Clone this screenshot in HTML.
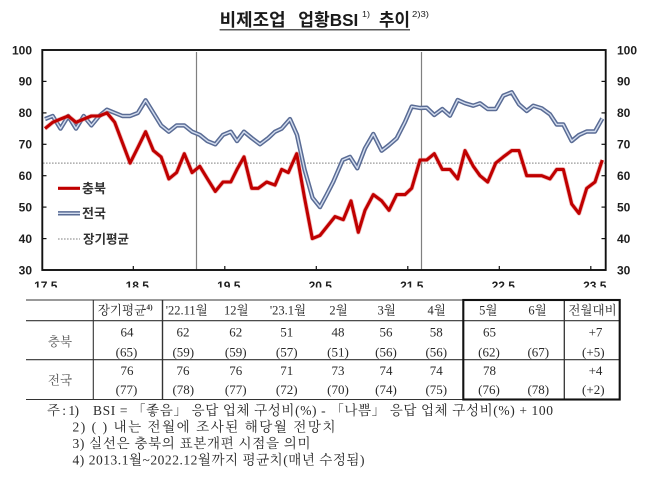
<!DOCTYPE html>
<html><head><meta charset="utf-8"><style>
html,body{margin:0;padding:0;background:#fff;}
svg{display:block;}
.s{font-family:"Liberation Sans","Noto Sans CJK KR",sans-serif;}
.t{font-family:"Liberation Serif","Noto Serif CJK SC",serif;fill:#2a2a2a;}
</style></head><body>
<svg width="648" height="480" viewBox="0 0 648 480" xmlns="http://www.w3.org/2000/svg">
<defs><clipPath id="xl"><rect x="0" y="0" width="648" height="287.5"/></clipPath></defs>
<rect width="648" height="480" fill="#fff"/>
<!-- Title -->
<g class="s" fill="#1a1a1a" font-weight="bold">
<text x="219.6" y="26" font-size="17.5" textLength="66" lengthAdjust="spacingAndGlyphs">비제조업</text>
<text x="298.3" y="26" font-size="17.5" textLength="60" lengthAdjust="spacingAndGlyphs">업황BSI</text>
<text x="362" y="17" font-size="8.5" font-weight="normal" textLength="8" lengthAdjust="spacingAndGlyphs">1)</text>
<text x="379" y="26" font-size="17.5" textLength="31" lengthAdjust="spacingAndGlyphs">추이</text>
<text x="412" y="17" font-size="8.5" font-weight="normal" textLength="17" lengthAdjust="spacingAndGlyphs">2)3)</text>
</g>
<line x1="219.6" y1="29.8" x2="410" y2="29.8" stroke="#222" stroke-width="1.2"/>

<!-- avg dotted line -->
<line x1="43" y1="163.1" x2="605" y2="163.1" stroke="#9a9a9a" stroke-width="1.2" stroke-dasharray="1.6 1.4"/>
<!-- vertical sample-change lines -->
<line x1="196.5" y1="52" x2="196.5" y2="270" stroke="#808080" stroke-width="1.2"/>
<line x1="421.5" y1="52" x2="421.5" y2="270" stroke="#808080" stroke-width="1.2"/>

<!-- Blue series -->
<polyline fill="none" stroke="#5a6c95" stroke-width="4.4" stroke-linejoin="round" points="45,119.1 52.7,116 60.5,128.6 68.2,116 76,128.6 83.7,116 91.4,125.4 99.2,116 106.9,109.7 114.7,112.9 122.4,116 130.1,116 137.9,112.9 145.6,100.3 153.4,112.9 161.1,125.4 168.8,131.7 176.6,125.4 184.3,125.4 192.1,131.7 199.8,134.9 207.5,141.1 215.3,144.3 223,134.9 230.8,131.7 237,141.1 244,131.7 251.7,138 260,144.3 268.3,138 275,131.7 281.7,128.6 290,119.1 297,134.9 304.5,169.4 312.5,197.7 320,207.1 326.5,195 333.3,181.7 342.7,160 350,156.9 357.3,168.3 365,148.3 373.3,134 381.7,150.7 389,145 396.7,138.3 405,122 411.7,106.6 420,108 426.7,107.7 434.3,115 442.3,109 450,115.7 457.7,100 465,103.3 473.3,105.7 480,103.3 487.7,109 495.7,109 503.3,95.7 511.7,92.3 519,104.3 526.7,111 533.3,105.7 541.7,108.3 550,114.3 556.7,124.5 563.3,124.5 571.7,141 579,135 586.7,131.5 595,131.5 602.3,118.5"/>
<polyline fill="none" stroke="#d3ddef" stroke-width="1.4" stroke-linejoin="round" points="45,119.1 52.7,116 60.5,128.6 68.2,116 76,128.6 83.7,116 91.4,125.4 99.2,116 106.9,109.7 114.7,112.9 122.4,116 130.1,116 137.9,112.9 145.6,100.3 153.4,112.9 161.1,125.4 168.8,131.7 176.6,125.4 184.3,125.4 192.1,131.7 199.8,134.9 207.5,141.1 215.3,144.3 223,134.9 230.8,131.7 237,141.1 244,131.7 251.7,138 260,144.3 268.3,138 275,131.7 281.7,128.6 290,119.1 297,134.9 304.5,169.4 312.5,197.7 320,207.1 326.5,195 333.3,181.7 342.7,160 350,156.9 357.3,168.3 365,148.3 373.3,134 381.7,150.7 389,145 396.7,138.3 405,122 411.7,106.6 420,108 426.7,107.7 434.3,115 442.3,109 450,115.7 457.7,100 465,103.3 473.3,105.7 480,103.3 487.7,109 495.7,109 503.3,95.7 511.7,92.3 519,104.3 526.7,111 533.3,105.7 541.7,108.3 550,114.3 556.7,124.5 563.3,124.5 571.7,141 579,135 586.7,131.5 595,131.5 602.3,118.5"/>

<!-- Red series -->
<polyline fill="none" stroke="#e07070" stroke-opacity="0.45" stroke-width="4.6" stroke-linejoin="round" points="45,128.6 52.7,122.3 60.5,119.1 68.2,116 76,122.3 83.7,119.1 91.4,116 99.2,116 106.9,112.9 114.7,122.3 122.4,142.7 130.1,163.1 137.9,147.4 145.6,131.7 153.4,150.6 161.1,156.9 168.8,178.9 176.6,172.6 184.3,153.7 192.1,172.6 199.8,166.3 207.5,178.9 215.3,191.4 223,182 230.8,182 237,169.4 244,156.9 251.7,188.3 258.3,188.3 266.7,182 275,185.1 281.7,169.4 288.3,172.6 296.7,153.7 304.5,197.7 312.3,238.6 320,235.4 327.5,226 335,216.6 343.3,219.7 351,200.9 358.3,232.3 365,210.3 373.3,194.6 381.7,200.9 389,210.3 396.7,194.6 405,194.6 411.7,188.3 420,160 426.7,160 434.3,153.7 442.3,169.4 450,169.4 457.7,178.9 465,150.6 473.3,166.3 480,175.7 487.7,182 495.7,163.1 503.3,156.9 511.7,150.6 519,150.6 526.7,175.7 535,175.7 541.7,175.7 550,178.9 556.7,169.4 563.3,169.4 571.7,204 579,213.4 586.7,188.3 595,182 602.3,160"/>
<polyline fill="none" stroke="#c00000" stroke-width="3.1" stroke-linejoin="round" points="45,128.6 52.7,122.3 60.5,119.1 68.2,116 76,122.3 83.7,119.1 91.4,116 99.2,116 106.9,112.9 114.7,122.3 122.4,142.7 130.1,163.1 137.9,147.4 145.6,131.7 153.4,150.6 161.1,156.9 168.8,178.9 176.6,172.6 184.3,153.7 192.1,172.6 199.8,166.3 207.5,178.9 215.3,191.4 223,182 230.8,182 237,169.4 244,156.9 251.7,188.3 258.3,188.3 266.7,182 275,185.1 281.7,169.4 288.3,172.6 296.7,153.7 304.5,197.7 312.3,238.6 320,235.4 327.5,226 335,216.6 343.3,219.7 351,200.9 358.3,232.3 365,210.3 373.3,194.6 381.7,200.9 389,210.3 396.7,194.6 405,194.6 411.7,188.3 420,160 426.7,160 434.3,153.7 442.3,169.4 450,169.4 457.7,178.9 465,150.6 473.3,166.3 480,175.7 487.7,182 495.7,163.1 503.3,156.9 511.7,150.6 519,150.6 526.7,175.7 535,175.7 541.7,175.7 550,178.9 556.7,169.4 563.3,169.4 571.7,204 579,213.4 586.7,188.3 595,182 602.3,160"/>

<!-- Frame -->
<rect x="42.3" y="50" width="563.4" height="220" fill="none" stroke="#111" stroke-width="1.9"/>
<g stroke="#111" stroke-width="1.2">
<line x1="42.3" y1="81.4" x2="46.5" y2="81.4"/><line x1="42.3" y1="112.9" x2="46.5" y2="112.9"/><line x1="42.3" y1="144.3" x2="46.5" y2="144.3"/><line x1="42.3" y1="175.7" x2="46.5" y2="175.7"/><line x1="42.3" y1="207.1" x2="46.5" y2="207.1"/><line x1="42.3" y1="238.6" x2="46.5" y2="238.6"/>
<line x1="601.5" y1="81.4" x2="605.7" y2="81.4"/><line x1="601.5" y1="112.9" x2="605.7" y2="112.9"/><line x1="601.5" y1="144.3" x2="605.7" y2="144.3"/><line x1="601.5" y1="175.7" x2="605.7" y2="175.7"/><line x1="601.5" y1="207.1" x2="605.7" y2="207.1"/><line x1="601.5" y1="238.6" x2="605.7" y2="238.6"/>
<line x1="133.3" y1="266" x2="133.3" y2="270"/><line x1="224.8" y1="266" x2="224.8" y2="270"/><line x1="316.3" y1="266" x2="316.3" y2="270"/><line x1="407.8" y1="266" x2="407.8" y2="270"/><line x1="499.3" y1="266" x2="499.3" y2="270"/><line x1="590.8" y1="266" x2="590.8" y2="270"/>
</g>

<!-- Y labels -->
<g class="s" font-size="12" font-weight="bold" fill="#1e1e1e">
<g text-anchor="end">
<text x="32" y="54.3">100</text><text x="32" y="85.7">90</text><text x="32" y="117.2">80</text><text x="32" y="148.6">70</text><text x="32" y="180">60</text><text x="32" y="211.4">50</text><text x="32" y="242.9">40</text><text x="32" y="274.3">30</text>
</g>
<text x="617" y="54.3">100</text><text x="617" y="85.7">90</text><text x="617" y="117.2">80</text><text x="617" y="148.6">70</text><text x="617" y="180">60</text><text x="617" y="211.4">50</text><text x="617" y="242.9">40</text><text x="617" y="274.3">30</text>
<g text-anchor="middle" clip-path="url(#xl)">
<text x="45.8" y="290">17.5</text><text x="137.3" y="290">18.5</text><text x="228.8" y="290">19.5</text><text x="320.3" y="290">20.5</text><text x="411.8" y="290">21.5</text><text x="503.3" y="290">22.5</text><text x="594.8" y="290">23.5</text>
</g>
</g>

<!-- Legend -->
<line x1="58" y1="188.3" x2="80" y2="188.3" stroke="#c00000" stroke-width="3.1"/>
<line x1="58" y1="213.3" x2="80" y2="213.3" stroke="#5a6c95" stroke-width="4.4"/>
<line x1="58" y1="213.3" x2="80" y2="213.3" stroke="#d3ddef" stroke-width="1.4"/>
<line x1="58" y1="239" x2="80" y2="239" stroke="#9a9a9a" stroke-width="1.2" stroke-dasharray="1.6 1.4"/>
<g class="s" font-size="13" font-weight="bold" fill="#333">
<text x="82" y="193">충북</text>
<text x="82" y="218">전국</text>
<text x="83" y="243.5" font-size="12.5">장기평균</text>
</g>

<!-- Table lines -->
<g stroke="#333" stroke-width="1.1" fill="none">
<line x1="26" y1="300" x2="463" y2="300"/>
<line x1="26" y1="320.7" x2="620" y2="320.7"/>
<line x1="26" y1="359.7" x2="620" y2="359.7"/>
<line x1="26" y1="399.5" x2="463" y2="399.5"/>
<line x1="93.3" y1="300" x2="93.3" y2="399.5"/>
<line x1="162.5" y1="300" x2="162.5" y2="399.5" stroke-width="1.4"/>
<line x1="564.3" y1="300" x2="564.3" y2="399.5" stroke-width="1.3"/>
</g>
<rect x="463.3" y="300" width="156.4" height="99.5" fill="none" stroke="#111" stroke-width="2.1"/>

<!-- Table text -->
<g class="t" text-anchor="middle" font-size="13">
<text x="122" y="314.5" font-size="12.5">장기평균</text><text x="149.5" y="309.5" font-size="7.5" font-weight="bold">4)</text>
<text x="186.7" y="314.5" font-size="12.5">'22.11월</text>
<text x="236.3" y="314.5" font-size="12.5">12월</text>
<text x="288" y="314.5" font-size="12.5">'23.1월</text>
<text x="338.5" y="314.5" font-size="12.5">2월</text>
<text x="386.7" y="314.5" font-size="12.5">3월</text>
<text x="436.7" y="314.5" font-size="12.5">4월</text>
<text x="488.3" y="314.5" font-size="12.5">5월</text>
<text x="537.5" y="314.5" font-size="12.5">6월</text>
<text x="592.5" y="314.5" font-size="12.5">전월대비</text>

<text x="60" y="346" font-size="12.5" fill="#555">충북</text>
<text x="60" y="384.5" font-size="12.5" fill="#555">전국</text>

<text x="127" y="336.5">64</text><text x="183" y="336.5">62</text><text x="235.7" y="336.5">62</text><text x="286.7" y="336.5">51</text><text x="338" y="336.5">48</text><text x="386" y="336.5">56</text><text x="436.3" y="336.5">58</text><text x="489.5" y="336.5">65</text><text x="595.5" y="336.5">+7</text>
<text x="126.5" y="356.5">(65)</text><text x="183.3" y="356.5">(59)</text><text x="235.7" y="356.5">(59)</text><text x="286.7" y="356.5">(57)</text><text x="338" y="356.5">(51)</text><text x="386" y="356.5">(56)</text><text x="436.3" y="356.5">(56)</text><text x="489" y="356.5">(62)</text><text x="538.3" y="356.5">(67)</text><text x="593.3" y="356.5">(+5)</text>

<text x="127" y="374.8">76</text><text x="183" y="374.8">76</text><text x="235.7" y="374.8">76</text><text x="286.7" y="374.8">71</text><text x="338" y="374.8">73</text><text x="386" y="374.8">74</text><text x="436.3" y="374.8">74</text><text x="489.5" y="374.8">78</text><text x="595.5" y="374.8">+4</text>
<text x="126.5" y="394">(77)</text><text x="183.3" y="394">(78)</text><text x="235.7" y="394">(77)</text><text x="286.7" y="394">(72)</text><text x="338" y="394">(70)</text><text x="386" y="394">(74)</text><text x="436.3" y="394">(75)</text><text x="489" y="394">(76)</text><text x="538.3" y="394">(78)</text><text x="593.3" y="394">(+2)</text>
</g>

<!-- Notes -->
<g class="t" font-size="13.5">
<text x="47" y="415" textLength="32" lengthAdjust="spacing">주 : 1)</text>
<text x="93" y="415" textLength="460" lengthAdjust="spacing">BSI = 「좋음」 응답 업체 구성비(%) - 「나쁨」 응답 업체 구성비(%) + 100</text>
<text x="72.5" y="431.5" textLength="263" lengthAdjust="spacing">2) (   ) 내는 전월에 조사된 해당월 전망치</text>
<text x="72.5" y="448" textLength="238" lengthAdjust="spacing">3) 실선은 충북의 표본개편 시점을 의미</text>
<text x="72.5" y="464.5" textLength="292" lengthAdjust="spacing">4) 2013.1월~2022.12월까지 평균치(매년 수정됨)</text>
</g>
</svg>
</body></html>
